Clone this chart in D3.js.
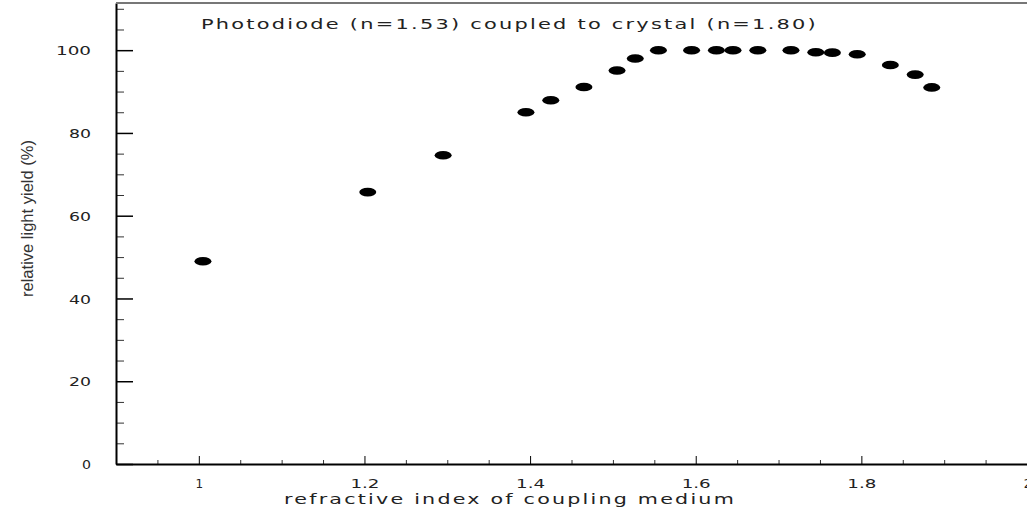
<!DOCTYPE html>
<html>
<head>
<meta charset="utf-8">
<script src="https://cdn.jsdelivr.net/npm/d3@7"></script>
<style>
  body { margin: 0; background: #fff; }
  svg { display: block; }
  .axis text { font-family: 'DejaVu Sans', sans-serif; font-size: 12px; fill: #222; }
</style>
</head>
<body>
<svg id="chart" width="1027" height="515"></svg>
<script>
// refractive index of coupling medium
const refIndex = [1.005, 1.204, 1.295, 1.395, 1.425, 1.465, 1.505, 1.527, 1.555, 1.595,
  1.625, 1.645, 1.675, 1.715, 1.745, 1.765, 1.795, 1.835, 1.865, 1.885]
// relative light yield (%)
const lightYield = [49.0, 65.7, 74.6, 85.0, 87.9, 91.1, 95.1, 98.0, 100, 100,
  100, 100, 100, 100, 99.5, 99.4, 99.0, 96.4, 94.1, 91.0]
const xTicks = [1, 1.2, 1.4, 1.6, 1.8, 2]
const yTicks = [0, 20, 40, 60, 80, 100]

const titleText = 'Photodiode (n=1.53) coupled to crystal (n=1.80)'
const xLabel = 'refractive index of coupling medium'
const yLabel = 'relative light yield (%)'

const margin = { top: 3, right: 0, bottom: 51, left: 116 }
const W = 1027, H = 515
const innerW = W - margin.left - margin.right
const innerH = H - margin.top - margin.bottom

const svg = d3.select('#chart')
const g = svg.append('g').attr('transform', `translate(${margin.left},${margin.top})`)

const x = d3.scaleLinear().domain([0.9, 2.0]).range([0, innerW])
const y = d3.scaleLinear().domain([0, 111.4]).range([innerH, 0])

// wide, low glyphs like the original plotting package
const labelWidth = s => s.split('').reduce((a, c) => a + (c === '.' ? 7 : 13), 0) - 4

// minor ticks
const xMinor = d3.range(0.9, 2.001, 0.05).filter(v => !xTicks.some(t => Math.abs(t - v) < 1e-6))
const yMinor = d3.range(5, 111, 5).filter(v => v % 20 !== 0)

g.append('g')
  .attr('class', 'axis minor')
  .attr('transform', `translate(0,${innerH})`)
  .call(d3.axisBottom(x).tickValues(xMinor).tickSizeInner(-4).tickSizeOuter(0).tickFormat(''))
  .call(s => s.select('.domain').remove())

g.append('g')
  .attr('class', 'axis minor')
  .call(d3.axisLeft(y).tickValues(yMinor).tickSizeInner(-8).tickSizeOuter(0).tickFormat(''))
  .call(s => s.select('.domain').remove())

// x axis
const xAxisG = g.append('g')
  .attr('class', 'axis x')
  .attr('transform', `translate(0,${innerH})`)
  .call(d3.axisBottom(x).tickValues(xTicks).tickSizeInner(-8).tickSizeOuter(0).tickPadding(15).tickFormat(d3.format('')))
xAxisG.select('.domain').attr('stroke-width', 2)
xAxisG.selectAll('text')
  .each(function (d) {
    const s = d3.format('')(d)
    if (s.length > 1) d3.select(this).attr('textLength', labelWidth(s)).attr('lengthAdjust', 'spacingAndGlyphs')
  })

// y axis
const yAxisG = g.append('g')
  .attr('class', 'axis y')
  .call(d3.axisLeft(y).tickValues(yTicks).tickSizeInner(-17).tickSizeOuter(0).tickPadding(25))
yAxisG.select('.domain').attr('stroke-width', 2)
yAxisG.selectAll('.tick line').attr('stroke-width', 1.5)
yAxisG.selectAll('text')
  .attr('dy', '0.38em')
  .each(function (d) {
    const s = String(d)
    d3.select(this).attr('textLength', labelWidth(s)).attr('lengthAdjust', 'spacingAndGlyphs')
  })

g.selectAll('.axis.minor line').attr('stroke', '#333')

// top frame line
g.append('line')
  .attr('x1', 0).attr('x2', innerW)
  .attr('y1', 0).attr('y2', 0)
  .attr('stroke', '#777').attr('stroke-width', 2)

// points
g.append('g')
  .selectAll('ellipse')
  .data(refIndex.map((r, i) => ({ r, v: lightYield[i] })))
  .join('ellipse')
  .attr('cx', d => x(d.r))
  .attr('cy', d => y(d.v))
  .attr('rx', 8.5)
  .attr('ry', 4.3)
  .attr('fill', '#000')

// title
svg.append('text')
  .attr('x', 201).attr('y', 29)
  .attr('textLength', 617).attr('lengthAdjust', 'spacingAndGlyphs')
  .attr('font-family', 'DejaVu Sans, sans-serif')
  .attr('font-size', 14)
  .attr('letter-spacing', 1.5)
  .attr('fill', '#222')
  .text(titleText)

// x label
svg.append('text')
  .attr('x', 284).attr('y', 504)
  .attr('textLength', 452).attr('lengthAdjust', 'spacingAndGlyphs')
  .attr('font-family', 'DejaVu Sans, sans-serif')
  .attr('font-size', 14)
  .attr('letter-spacing', 1.5)
  .attr('fill', '#222')
  .text(xLabel)

// y label
svg.append('text')
  .attr('transform', 'translate(33,297) rotate(-90)')
  .attr('textLength', 157).attr('lengthAdjust', 'spacingAndGlyphs')
  .attr('font-family', 'Liberation Sans Narrow, Liberation Sans, sans-serif')
  .attr('font-size', 17)
  .attr('fill', '#333')
  .text(yLabel)
</script>
</body>
</html>
